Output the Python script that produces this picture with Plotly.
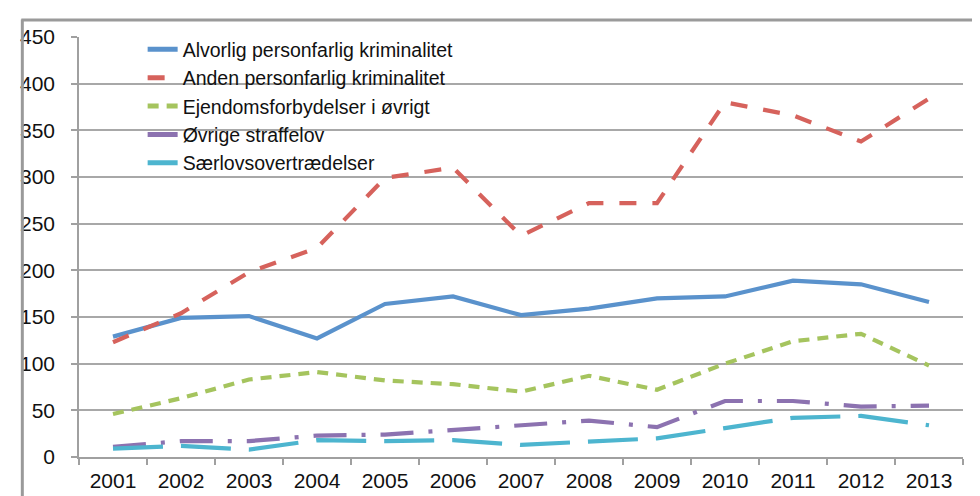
import plotly.graph_objects as go

years = ["2001", "2002", "2003", "2004", "2005", "2006", "2007",
         "2008", "2009", "2010", "2011", "2012", "2013"]

alvorlig = [129, 149, 151, 127, 164, 172, 152, 159, 170, 172, 189, 185, 166]
anden = [123, 154, 198, 224, 299, 310, 237, 272, 272, 380, 366, 338, 384]
ejendom = [46, 63, 83, 91, 82, 78, 70, 87, 72, 100, 124, 132, 98]
ovrige = [11, 17, 17, 23, 24, 29, 34, 39, 32, 60, 60, 54, 55]
saerlov = [9, 12, 8, 18, 17, 18, 13, 17, 20, 31, 42, 44, 34]

names = ["Alvorlig personfarlig kriminalitet",
         "Anden personfarlig kriminalitet",
         "Ejendomsforbydelser i øvrigt",
         "Øvrige straffelov",
         "Særlovsovertrædelser"]

y_ticks = [0, 50, 100, 150, 200, 250, 300, 350, 400, 450]

series = [alvorlig, anden, ejendom, ovrige, saerlov]
colors = ["#5A92CC", "#D6625C", "#A5C45E", "#8C72B0", "#4DB5CF"]
dashes = ["solid", "17px,16px", "11px,8px", "33px,15px,4px,15px", "50px,18px"]

fig = go.Figure()
for vals, name, col, dsh in zip(series, names, colors, dashes):
    fig.add_trace(go.Scatter(
        x=years, y=vals, name=name, mode="lines",
        line=dict(color=col, width=4.2, dash=dsh),
    ))

W, H = 980, 496
ml, mr, mt, mb = 66, 25, 29, 37
pw, ph = W - ml - mr, H - mt - mb

def px_x(p):
    return (p - ml) / pw

def px_y(p):
    return 1 - (p - mt) / ph

fig.update_layout(
    width=W, height=H,
    margin=dict(l=ml, r=mr, t=mt, b=mb, pad=0),
    paper_bgcolor="white", plot_bgcolor="white",
    font=dict(family="Arial, Liberation Sans, sans-serif", size=21, color="#111"),
    showlegend=True,
    legend=dict(
        x=px_x(130), y=px_y(22), xanchor="left", yanchor="top",
        bgcolor="rgba(0,0,0,0)", borderwidth=0,
        font=dict(size=19.5, color="#111"),
        tracegroupgap=0, itemsizing="constant",
    ),
    xaxis=dict(
        type="category", range=[-0.5, 12.5],
        tickson="boundaries", ticks="outside", ticklen=6,
        tickcolor="#a0a0a0", tickwidth=1.5,
        showline=True, linecolor="#a0a0a0", linewidth=1.5,
        showgrid=False, zeroline=False,
        tickfont=dict(size=21), ticklabelstandoff=4,
    ),
    yaxis=dict(
        range=[0, 450], tickvals=y_ticks, ticktext=[str(v) for v in y_ticks],
        ticks="outside", ticklen=6, tickcolor="#a0a0a0", tickwidth=1.5,
        showline=True, linecolor="#a0a0a0", linewidth=1.5,
        showgrid=True, gridcolor="#a8a8a8", gridwidth=1.5,
        zeroline=False, tickfont=dict(size=21), ticklabelstandoff=12,
    ),
    shapes=[
        dict(type="line", xref="paper", yref="paper",
             x0=px_x(9), x1=px_x(9), y0=px_y(11), y1=px_y(520),
             line=dict(color="#9a9a9a", width=3)),
        dict(type="line", xref="paper", yref="paper",
             x0=px_x(8), x1=px_x(1000), y0=px_y(11.5), y1=px_y(11.5),
             line=dict(color="#9a9a9a", width=3)),
    ],
)

fig.write_html("out.html")
